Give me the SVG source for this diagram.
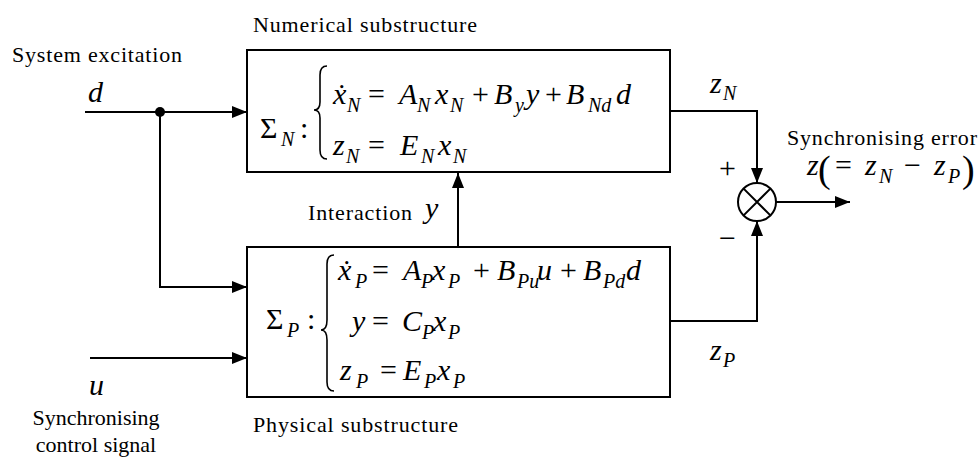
<svg xmlns="http://www.w3.org/2000/svg" width="980" height="457" viewBox="0 0 980 457">
<style>
text{font-family:"Liberation Serif","Times New Roman",serif;fill:#000}
.lbl{font-size:22px}
.m{font-size:30px;font-style:italic}
.u{font-style:normal}
.s{font-size:20px}
.ln{stroke:#000;stroke-width:2;fill:none}
.box{stroke:#000;stroke-width:2;fill:#fff}
.br{stroke:#000;stroke-width:1.6;fill:none}
</style>
<defs>
<marker id="ah" markerUnits="userSpaceOnUse" markerWidth="16" markerHeight="12" refX="15" refY="6" orient="auto">
<path d="M0,0 L15,6 L0,12 z" fill="#000"/>
</marker>
</defs>
<rect width="980" height="457" fill="#fff"/>
<g id="connectors">
<path class="ln" d="M85,112 H247" marker-end="url(#ah)"/>
<circle cx="160" cy="112" r="5" fill="#000"/>
<path class="ln" d="M160,112 V287 H247" marker-end="url(#ah)"/>
<path class="ln" d="M90,358 H247" marker-end="url(#ah)"/>
<path class="ln" d="M458,247 V173" marker-end="url(#ah)"/>
<path class="ln" d="M670,111 H757 V183" marker-end="url(#ah)"/>
<path class="ln" d="M670,321 H757 V221" marker-end="url(#ah)"/>
<path class="ln" d="M776,202 H850" marker-end="url(#ah)"/>
</g>
<g id="numerical">
<rect class="box" x="247" y="50" width="423" height="122"/>
<text class="lbl" x="253" y="32" textLength="224" lengthAdjust="spacing">Numerical substructure</text>
<text class="m"><tspan class="u" x="260" y="138">Σ</tspan><tspan class="s" x="281" y="146">N</tspan><tspan class="u" x="300" y="138">:</tspan></text>
<path class="br" d="M327,66 Q320,66 320,75 L320,102 Q320,110 314,110 Q320,110 320,118 L320,150 Q320,159 327,159"/>
<text class="m"><tspan x="333" y="104">ẋ</tspan><tspan class="s" x="347" y="112">N</tspan><tspan class="u" x="368" y="104">=</tspan><tspan x="399" y="104">A</tspan><tspan class="s" x="417" y="112">N</tspan><tspan x="435" y="104">x</tspan><tspan class="s" x="450" y="112">N</tspan><tspan class="u" x="472" y="104">+</tspan><tspan x="494" y="104">B</tspan><tspan class="s" x="515" y="112">y</tspan><tspan x="526" y="104">y</tspan><tspan class="u" x="545" y="104">+</tspan><tspan x="566" y="104">B</tspan><tspan class="s" x="588" y="112">Nd</tspan><tspan x="616" y="104">d</tspan></text>
<text class="m"><tspan x="333" y="155">z</tspan><tspan class="s" x="346" y="163">N</tspan><tspan class="u" x="368" y="155">=</tspan><tspan x="400" y="155">E</tspan><tspan class="s" x="421" y="163">N</tspan><tspan x="438" y="155">x</tspan><tspan class="s" x="453" y="163">N</tspan></text>
</g>
<g id="physical">
<rect class="box" x="247" y="247" width="423" height="150"/>
<text class="lbl" x="253" y="432" textLength="205" lengthAdjust="spacing">Physical substructure</text>
<text class="m"><tspan class="u" x="266" y="329">Σ</tspan><tspan class="s" x="287" y="337">P</tspan><tspan class="u" x="307" y="329">:</tspan></text>
<path class="br" d="M334,255 Q327,255 327,264 L327,320 Q327,330 321,330 Q327,330 327,340 L327,382 Q327,391 334,391"/>
<text class="m"><tspan x="338" y="280">ẋ</tspan><tspan class="s" x="355" y="288">P</tspan><tspan class="u" x="372" y="280">=</tspan><tspan x="403" y="280">A</tspan><tspan class="s" x="421" y="288">P</tspan><tspan x="432" y="280">x</tspan><tspan class="s" x="448" y="288">P</tspan><tspan class="u" x="473" y="280">+</tspan><tspan x="497" y="280">B</tspan><tspan class="s" x="517" y="288">Pu</tspan><tspan x="537" y="280">u</tspan><tspan class="u" x="560" y="280">+</tspan><tspan x="583" y="280">B</tspan><tspan class="s" x="603" y="288">Pd</tspan><tspan x="626" y="280">d</tspan></text>
<text class="m"><tspan x="352" y="331">y</tspan><tspan class="u" x="372" y="331">=</tspan><tspan x="402" y="331">C</tspan><tspan class="s" x="422" y="339">P</tspan><tspan x="433" y="331">x</tspan><tspan class="s" x="448" y="339">P</tspan></text>
<text class="m"><tspan x="340" y="380">z</tspan><tspan class="s" x="356" y="388">P</tspan><tspan class="u" x="380" y="380">=</tspan><tspan x="403" y="380">E</tspan><tspan class="s" x="424" y="388">P</tspan><tspan x="437" y="380">x</tspan><tspan class="s" x="453" y="388">P</tspan></text>
</g>
<g id="sum">
<circle class="ln" cx="757" cy="202" r="19"/>
<path class="ln" d="M743.6,188.6 L770.4,215.4 M770.4,188.6 L743.6,215.4"/>
<text class="m u" x="719" y="178">+</text>
<text class="m u" x="719" y="248">−</text>
</g>
<g id="labels">
<text class="lbl" x="12" y="62" textLength="170" lengthAdjust="spacing">System excitation</text>
<text class="m" x="88" y="102">d</text>
<text class="m" x="89" y="395">u</text>
<text class="lbl" x="96" y="425" text-anchor="middle">Synchronising</text>
<text class="lbl" x="96" y="452" text-anchor="middle">control signal</text>
<text class="lbl" x="308" y="220" textLength="104" lengthAdjust="spacing">Interaction</text>
<text class="m" x="425" y="218">y</text>
<text class="m"><tspan x="710" y="93">z</tspan><tspan class="s" x="723" y="100">N</tspan></text>
<text class="m"><tspan x="710" y="360">z</tspan><tspan class="s" x="723" y="367">P</tspan></text>
<text class="lbl" x="787" y="145" textLength="190" lengthAdjust="spacing">Synchronising error</text>
<text class="m"><tspan x="807" y="175">z</tspan><tspan class="u" x="818" y="182" style="font-size:38px">(</tspan><tspan class="u" x="835" y="175">=</tspan><tspan x="865" y="175">z</tspan><tspan class="s" x="879" y="183">N</tspan><tspan class="u" x="904" y="175">−</tspan><tspan x="934" y="175">z</tspan><tspan class="s" x="948" y="183">P</tspan><tspan class="u" x="962" y="182" style="font-size:38px">)</tspan></text>
</g>
</svg>
